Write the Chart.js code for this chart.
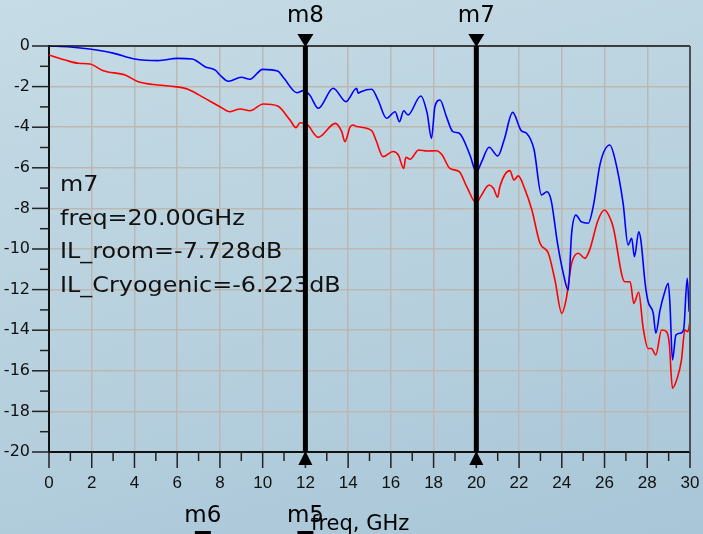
<!DOCTYPE html>
<html>
<head>
<meta charset="utf-8">
<script src="https://cdn.jsdelivr.net/npm/chart.js@4.4.1/dist/chart.umd.min.js"></script>
<style>
  html, body { margin: 0; padding: 0; }
  body {
    width: 703px; height: 534px; overflow: hidden;
    background: linear-gradient(165deg, #c6dce6 0%, #b8d1de 50%, #a8c6d8 100%);
  }
  canvas { display: block; }
</style>
</head>
<body>
<canvas id="chart" width="703" height="534"></canvas>
<script>
// insertion loss, room temperature (red)
let freqRoom = [0, 0.75, 1.37, 1.92, 2.54, 3.56, 4.18, 5.1, 5.9, 6.5,
  7.3, 8.0, 8.47, 8.94, 9.4, 10.03, 10.7, 11.28, 11.56, 11.75,
  12.1, 12.6, 13.4, 13.7, 13.85, 14.1, 14.24, 14.4, 15.1, 15.3,
  15.64, 16.1, 16.35, 16.6, 16.7, 16.9, 17.3, 17.7, 18.14, 18.4,
  18.76, 19.2, 19.55, 20.0, 20.2, 20.6, 20.8, 21.0, 21.1, 21.57,
  21.76, 21.96, 22.27, 22.6, 22.98, 23.37, 23.68, 24.0, 24.2, 24.46,
  24.77, 25.08, 25.3, 25.7, 26.0, 26.25, 26.4, 26.95, 27.2, 27.37,
  27.6, 27.8, 28.04, 28.2, 28.4, 28.67, 28.9, 29.03, 29.18, 29.4,
  29.6, 29.76, 29.9, 30];
let ilRoom = [-0.44, -0.69, -0.85, -0.89, -1.22, -1.43, -1.76, -1.92, -2.0, -2.13,
  -2.58, -2.99, -3.24, -3.1, -3.19, -2.86, -2.96, -3.65, -4.02, -3.78,
  -3.89, -4.5, -3.81, -4.22, -4.71, -3.97, -3.89, -3.97, -4.17, -4.63,
  -5.45, -5.2, -5.37, -6.03, -5.48, -5.58, -5.12, -5.17, -5.16, -5.37,
  -6.03, -6.19, -6.93, -7.73, -7.42, -6.85, -7.01, -7.45, -6.93, -6.14,
  -6.6, -6.4, -7.05, -8.08, -9.72, -10.21, -11.53, -13.17, -12.51, -10.71,
  -10.21, -10.46, -10.05, -8.57, -8.08, -8.45, -8.9, -11.61, -11.61, -12.68,
  -12.13, -13.83, -14.9, -14.9, -15.22, -13.99, -14.07, -14.65, -16.86, -16.37,
  -15.47, -13.99, -14.07, -13.58];

// insertion loss, cryogenic (blue)
let freqCryo = [0, 1.0, 1.9, 3.0, 4.0, 5.1, 6.0, 6.7, 7.3, 7.8,
  8.0, 8.4, 9.0, 9.4, 10.0, 10.7, 11.0, 11.6, 11.9, 12.2,
  12.6, 13.3, 13.9, 14.4, 14.47, 14.6, 15.1, 15.4, 15.8, 16.2,
  16.4, 16.6, 16.8, 17.4, 17.7, 17.9, 18.06, 18.3, 18.6, 18.9,
  19.2, 19.7, 20.0, 20.25, 20.6, 21.0, 21.3, 21.7, 22.1, 22.35,
  22.7, 23.05, 23.3, 23.5, 23.8, 24.07, 24.3, 24.46, 24.66, 24.9,
  25.24, 25.47, 25.8, 26.25, 26.5, 26.87, 27.1, 27.27, 27.4, 27.6,
  27.7, 27.9, 28.04, 28.28, 28.4, 28.6, 28.8, 28.98, 29.06, 29.18,
  29.34, 29.53, 29.7, 29.87, 29.96];
let ilCryo = [0, -0.05, -0.15, -0.35, -0.64, -0.72, -0.61, -0.64, -1.02, -1.2,
  -1.43, -1.74, -1.54, -1.64, -1.15, -1.23, -1.59, -2.3, -2.2, -2.41,
  -3.07, -2.08, -2.74, -2.08, -2.33, -2.25, -2.13, -2.66, -3.56, -3.24,
  -3.73, -3.19, -3.4, -2.46, -3.32, -4.55, -2.99, -2.66, -3.48, -4.22,
  -4.3, -5.37, -6.22, -5.7, -4.99, -5.42, -4.63, -3.27, -4.17, -4.3,
  -5.1, -7.34, -7.18, -7.59, -9.72, -11.2, -12.02, -9.23, -8.33, -8.65,
  -8.73, -7.91, -5.78, -4.88, -5.62, -7.75, -9.8, -9.47, -10.38, -9.15,
  -9.56, -11.69, -12.6, -13.17, -14.15, -13.0, -12.18, -11.69, -12.67, -15.47,
  -14.24, -14.15, -13.99, -11.44, -13.09];

// markers
let topMarkerFreqs  = [12, 20];
let topMarkerNames  = ['m8', 'm7'];
let lowMarkerFreqs  = [7.2, 12];
let lowMarkerNames  = ['m6', 'm5'];
let readout = ['m7', 'freq=20.00GHz', 'IL_room=-7.728dB', 'IL_Cryogenic=-6.223dB'];

function pts(xs, ys){
  return xs.map((f, i) => ({x: f, y: ys[i]}));
}

const gridColor = c => (c.tick && c.tick.value % 2 === 0) ? '#bdb7b1' : 'rgba(0,0,0,0)';
const evenOnly = v => (v % 2 === 0) ? v : '';

const extras = {
  id: 'extras',
  afterDatasetsDraw(chart){
    const {ctx, chartArea: a, scales: {x, y}} = chart;
    ctx.save();
    // frame top and right
    ctx.strokeStyle = '#111';
    ctx.lineWidth = 1.5;
    ctx.beginPath(); ctx.moveTo(a.left, a.top); ctx.lineTo(a.right, a.top); ctx.stroke();
    ctx.strokeStyle = '#4a5157';
    ctx.lineWidth = 2;
    ctx.beginPath(); ctx.moveTo(a.right, a.top); ctx.lineTo(a.right, a.bottom); ctx.stroke();

    // tick marks, long on even values
    ctx.strokeStyle = '#222';
    ctx.lineWidth = 1.5;
    y.ticks.forEach(t => {
      let py = y.getPixelForValue(t.value);
      let len = t.value % 2 === 0 ? 17 : 9;
      ctx.beginPath(); ctx.moveTo(a.left - len, py); ctx.lineTo(a.left, py); ctx.stroke();
    });
    x.ticks.forEach(t => {
      let px = x.getPixelForValue(t.value);
      let len = t.value % 2 === 0 ? 16 : 9;
      ctx.beginPath(); ctx.moveTo(px, a.bottom); ctx.lineTo(px, a.bottom + len); ctx.stroke();
    });

    // marker readout (slightly wide lettering, as in the original)
    ctx.fillStyle = '#111';
    ctx.font = '22px "DejaVu Sans"';
    ctx.textAlign = 'left';
    ctx.textBaseline = 'alphabetic';
    readout.forEach((s, i) => {
      ctx.save();
      ctx.translate(60, 191 + i * 33.5);
      ctx.scale(1.085, 1);
      ctx.fillText(s, 0, 0);
      ctx.restore();
    });

    // marker lines with triangles
    ctx.fillStyle = '#000';
    ctx.strokeStyle = '#000';
    topMarkerFreqs.forEach((f, i) => {
      let px = x.getPixelForValue(f);
      ctx.lineWidth = 5;
      ctx.beginPath(); ctx.moveTo(px, a.top); ctx.lineTo(px, a.bottom); ctx.stroke();
      ctx.beginPath();
      ctx.moveTo(px - 8, a.top - 12); ctx.lineTo(px + 8, a.top - 12); ctx.lineTo(px, a.top + 1);
      ctx.closePath(); ctx.fill();
      ctx.beginPath();
      ctx.moveTo(px - 7, a.bottom + 13); ctx.lineTo(px + 7, a.bottom + 13); ctx.lineTo(px, a.bottom - 1);
      ctx.closePath(); ctx.fill();
      ctx.font = '23px "DejaVu Sans"';
      ctx.textAlign = 'center';
      ctx.fillText(topMarkerNames[i], px, 22);
    });
    lowMarkerFreqs.forEach((f, i) => {
      let px = x.getPixelForValue(f);
      ctx.font = '23px "DejaVu Sans"';
      ctx.textAlign = 'center';
      ctx.fillText(lowMarkerNames[i], px, 522);
      ctx.fillRect(px - 8, 531, 16, 3);
    });

    // axis title
    ctx.font = '21px "DejaVu Sans"';
    ctx.textAlign = 'left';
    ctx.fillText('freq, GHz', 311, 530);
    ctx.restore();
  }
};

new Chart(document.getElementById('chart').getContext('2d'), {
  type: 'line',
  data: {
    datasets: [
      {
        label: 'IL_Cryogenic',
        data: pts(freqCryo, ilCryo),
        borderColor: '#0000ff',
        borderWidth: 1.6,
        pointRadius: 0,
        cubicInterpolationMode: 'monotone'
      },
      {
        label: 'IL_room',
        data: pts(freqRoom, ilRoom),
        borderColor: '#ff0000',
        borderWidth: 1.6,
        pointRadius: 0,
        cubicInterpolationMode: 'monotone'
      }
    ]
  },
  options: {
    responsive: false,
    animation: false,
    devicePixelRatio: 1,
    layout: { padding: { top: 46, right: 13, left: 0, bottom: 0 } },
    plugins: { legend: { display: false }, tooltip: { enabled: false } },
    scales: {
      x: {
        type: 'linear',
        min: 0, max: 30,
        afterFit: s => { s.height = 82; s.paddingLeft = 0; s.paddingRight = 0; },
        grid: { color: gridColor, lineWidth: 1.5, drawTicks: false },
        border: { display: true, color: '#111', width: 2 },
        ticks: {
          stepSize: 1, autoSkip: false, maxRotation: 0, padding: 21,
          callback: evenOnly,
          color: '#111',
          font: { family: 'Liberation Sans', size: 17 }
        }
      },
      y: {
        min: -20, max: 0,
        afterFit: s => { s.width = 49; s.paddingTop = 0; s.paddingBottom = 0; },
        grid: { color: gridColor, lineWidth: 1.5, drawTicks: false },
        border: { display: true, color: '#111', width: 2 },
        ticks: {
          stepSize: 1, autoSkip: false, padding: 19,
          callback: evenOnly,
          color: '#111',
          font: { family: 'DejaVu Sans', size: 16 }
        }
      }
    }
  },
  plugins: [extras]
});
</script>
</body>
</html>
